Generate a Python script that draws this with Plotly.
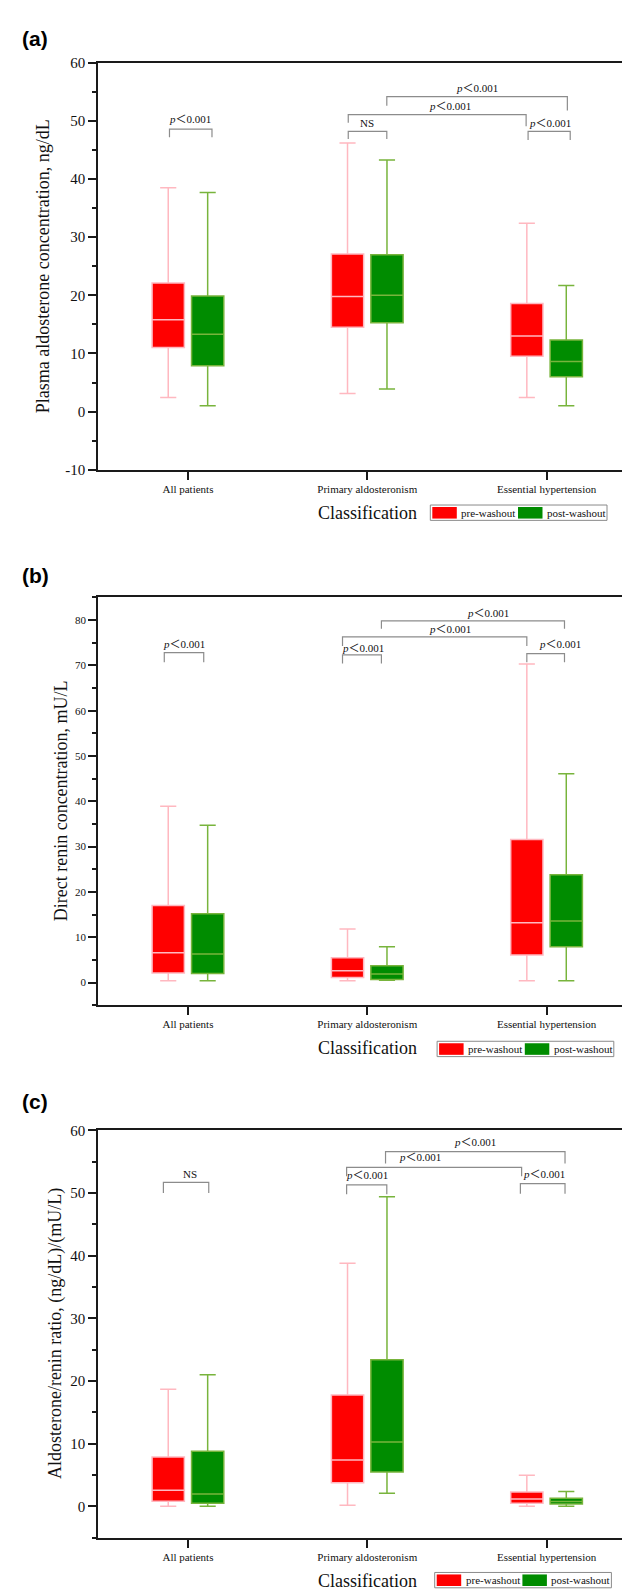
import plotly.graph_objects as go

W, H = 630, 1589

categories = ["All patients", "Primary aldosteronism", "Essential hypertension"]
series_names = ["pre-washout", "post-washout"]

# (a) Plasma aldosterone concentration, ng/dL
pac_pre_upper = [38.5, 46.2, 32.4]
pac_pre_q3 = [22.1, 27.1, 18.6]
pac_pre_med = [15.8, 19.8, 13.0]
pac_pre_q1 = [11.0, 14.5, 9.5]
pac_pre_lower = [2.4, 3.1, 2.4]
pac_post_upper = [37.7, 43.3, 21.7]
pac_post_q3 = [19.9, 27.0, 12.3]
pac_post_med = [13.3, 20.0, 8.6]
pac_post_q1 = [7.9, 15.3, 6.0]
pac_post_lower = [1.0, 3.9, 1.0]
pac_ticks = [-10, 0, 10, 20, 30, 40, 50, 60]

# (b) Direct renin concentration, mU/L
drc_pre_upper = [38.9, 11.8, 70.3]
drc_pre_q3 = [17.0, 5.5, 31.6]
drc_pre_med = [6.6, 2.6, 13.2]
drc_pre_q1 = [2.1, 1.1, 6.1]
drc_pre_lower = [0.4, 0.4, 0.4]
drc_post_upper = [34.7, 7.9, 46.1]
drc_post_q3 = [15.2, 3.7, 23.8]
drc_post_med = [6.3, 1.9, 13.6]
drc_post_q1 = [2.0, 0.7, 7.9]
drc_post_lower = [0.4, 0.5, 0.4]
drc_ticks = [0, 10, 20, 30, 40, 50, 60, 70, 80]

# (c) Aldosterone/renin ratio
arr_pre_upper = [18.7, 38.8, 5.0]
arr_pre_q3 = [7.9, 17.8, 2.3]
arr_pre_med = [2.6, 7.4, 1.2]
arr_pre_q1 = [0.85, 3.8, 0.5]
arr_pre_lower = [0.05, 0.2, 0.05]
arr_post_upper = [21.0, 49.4, 2.4]
arr_post_q3 = [8.8, 23.4, 1.3]
arr_post_med = [2.0, 10.3, 0.8]
arr_post_q1 = [0.5, 5.5, 0.4]
arr_post_lower = [0.05, 2.1, 0.05]
arr_ticks = [0, 10, 20, 30, 40, 50, 60]

# significance brackets: x-start, x-end, bar y, left-leg bottom, right-leg bottom, label, label x, label y
pac_brackets = [
    (0.897, 1.134, 48.6, 47.2, 47.2, "<i>p</i>＜0.001", 1.011, 50.3),
    (1.894, 2.109, 48.2, 46.9, 46.9, "NS", 2.0, 49.7),
    (1.894, 2.886, 51.1, 49.7, 49.1, "<i>p</i>＜0.001", 2.46, 52.6),
    (2.109, 3.116, 54.2, 52.6, 51.8, "<i>p</i>＜0.001", 2.61, 55.6),
    (2.897, 3.132, 48.2, 46.7, 46.7, "<i>p</i>＜0.001", 3.018, 49.7),
]
drc_brackets = [
    (0.868, 1.088, 72.8, 70.7, 70.7, "<i>p</i>＜0.001", 0.978, 74.7),
    (1.862, 2.079, 72.3, 70.4, 70.4, "<i>p</i>＜0.001", 1.979, 73.9),
    (1.862, 2.890, 76.3, 74.3, 74.3, "<i>p</i>＜0.001", 2.46, 78.1),
    (2.079, 3.100, 79.8, 78.1, 78.1, "<i>p</i>＜0.001", 2.673, 81.6),
    (2.890, 3.100, 72.6, 70.7, 70.7, "<i>p</i>＜0.001", 3.076, 74.7),
]
arr_brackets = [
    (0.863, 1.116, 51.7, 50.0, 50.0, "NS", 1.011, 53.0),
    (1.885, 2.109, 51.3, 49.8, 49.8, "<i>p</i>＜0.001", 2.001, 52.9),
    (1.885, 2.861, 54.1, 52.7, 52.7, "<i>p</i>＜0.001", 2.292, 55.7),
    (2.102, 3.103, 56.6, 54.7, 54.7, "<i>p</i>＜0.001", 2.601, 58.1),
    (2.854, 3.103, 51.5, 49.9, 49.9, "<i>p</i>＜0.001", 2.987, 53.0),
]

panels = [
    dict(letter="(a)", ytitle="Plasma aldosterone concentration, ng/dL",
         pre=(pac_pre_lower, pac_pre_q1, pac_pre_med, pac_pre_q3, pac_pre_upper),
         post=(pac_post_lower, pac_post_q1, pac_post_med, pac_post_q3, pac_post_upper),
         brackets=pac_brackets, ticks=pac_ticks, yrange=[-10, 60], top=47.3, bottom=458.3,
         tickfont=15, letter_y=22.5, ytitle_x=35, class_y=501.7, legend_x=422.3, legend_y=494.0),
    dict(letter="(b)", ytitle="Direct renin concentration, mU/L",
         pre=(drc_pre_lower, drc_pre_q1, drc_pre_med, drc_pre_q3, drc_pre_upper),
         post=(drc_post_lower, drc_post_q1, drc_post_med, drc_post_q3, drc_post_upper),
         brackets=drc_brackets, ticks=drc_ticks, yrange=[-5, 85], top=587.3, bottom=999.3,
         tickfont=11, letter_y=565.0, ytitle_x=53, class_y=1042.7, legend_x=429.1, legend_y=1035.7),
    dict(letter="(c)", ytitle="Aldosterone/renin ratio, (ng/dL)/(mU/L)",
         pre=(arr_pre_lower, arr_pre_q1, arr_pre_med, arr_pre_q3, arr_pre_upper),
         post=(arr_post_lower, arr_post_q1, arr_post_med, arr_post_q3, arr_post_upper),
         brackets=arr_brackets, ticks=arr_ticks, yrange=[-5, 60], top=1125.7, bottom=1537.3,
         tickfont=15, letter_y=1097.0, ytitle_x=47, class_y=1580.7, legend_x=426.7, legend_y=1572.3),
]

PRE_FILL, PRE_LINE = "#FF0000", "#FFB8C0"
POST_FILL, POST_LINE = "#008C00", "#78B43C"
SERIF = "Liberation Serif, Times New Roman, serif"
AX = "#1a1a1a"
BR = "#8c8c8c"

def px(x):
    return x / W

def py(y):
    return 1 - y / H

fig = go.Figure()
shapes = []
annotations = []
layout = {}
x_left = 90.3

for i, p in enumerate(panels):
    n = "" if i == 0 else str(i + 1)
    xa, ya = "x" + n, "y" + n
    for sname, stats, fill, line, off in (
        (series_names[0], p["pre"], PRE_FILL, PRE_LINE, -0.11),
        (series_names[1], p["post"], POST_FILL, POST_LINE, 0.11),
    ):
        lo, q1, med, q3, up = stats
        fig.add_trace(go.Box(
            x=[k + 1 + off for k in range(len(categories))],
            lowerfence=lo, q1=q1, median=med, q3=q3, upperfence=up,
            name=sname, width=0.18, whiskerwidth=0.5,
            fillcolor=fill, line=dict(color=line, width=1.5),
            xaxis=xa, yaxis=ya, showlegend=False, boxpoints=False,
        ))
    layout["xaxis" + n] = dict(
        domain=[px(x_left), 1.0], range=[0.5, 3.51], anchor=ya,
        tickvals=[1, 2, 3], ticktext=categories, ticks="outside", ticklen=8,
        tickwidth=2, tickcolor=AX, showline=True, linecolor=AX, linewidth=2,
        mirror=True, showgrid=False, zeroline=False,
        tickfont=dict(family=SERIF, size=11, color="#111"),
    )
    layout["yaxis" + n] = dict(
        domain=[py(p["bottom"]), py(p["top"])], range=p["yrange"], anchor=xa,
        tickvals=p["ticks"], ticktext=[str(t) for t in p["ticks"]],
        ticks="outside", ticklen=8, tickwidth=2, tickcolor=AX,
        showline=True, linecolor=AX, linewidth=2, showgrid=False, zeroline=False,
        minor=dict(dtick=5, tick0=0, ticks="outside", ticklen=4, tickwidth=1.5, tickcolor=AX),
        tickfont=dict(family=SERIF, size=p["tickfont"], color="#111"),
    )
    # brackets
    for (x0, x1, yb, l0, l1, lab, lx, ly) in p["brackets"]:
        shapes.append(dict(type="path", xref=xa, yref=ya,
                           path=f"M {x0},{l0} L {x0},{yb} L {x1},{yb} L {x1},{l1}",
                           line=dict(color=BR, width=1.2)))
        annotations.append(dict(xref=xa, yref=ya, x=lx, y=ly, text=lab, showarrow=False,
                                xanchor="center", yanchor="middle",
                                font=dict(family=SERIF + ", Noto Sans CJK SC", size=11, color="#111")))
    # panel letter
    annotations.append(dict(xref="paper", yref="paper", x=px(12), y=py(p["letter_y"]),
                            text="<b>" + p["letter"] + "</b>", showarrow=False,
                            xanchor="left", yanchor="middle",
                            font=dict(family="Liberation Sans, Arial, sans-serif", size=21, color="#000")))
    # y title
    annotations.append(dict(xref="paper", yref="paper", x=px(p["ytitle_x"]),
                            y=py((p["top"] + p["bottom"]) / 2), text=p["ytitle"], textangle=-90,
                            showarrow=False, xanchor="center", yanchor="middle",
                            font=dict(family=SERIF, size=18, color="#111")))
    # x title
    annotations.append(dict(xref="paper", yref="paper", x=px(359), y=py(p["class_y"]),
                            text="Classification", showarrow=False, xanchor="center", yanchor="middle",
                            font=dict(family=SERIF, size=18, color="#111")))
    # legend box
    lx0, ly0 = p["legend_x"], p["legend_y"]
    shapes.append(dict(type="rect", xref="paper", yref="paper",
                       x0=px(lx0), x1=px(lx0 + 176.7), y0=py(ly0), y1=py(ly0 + 15.5),
                       line=dict(color="#8a8a8a", width=1), fillcolor="rgba(0,0,0,0)"))
    for off, col, lab in ((2.0, PRE_FILL, series_names[0]), (87.7, POST_FILL, series_names[1])):
        shapes.append(dict(type="rect", xref="paper", yref="paper",
                           x0=px(lx0 + off), x1=px(lx0 + off + 24.5), y0=py(ly0 + 2), y1=py(ly0 + 13.7),
                           line=dict(color=col, width=0), fillcolor=col))
        annotations.append(dict(xref="paper", yref="paper", x=px(lx0 + off + 27), y=py(ly0 + 8),
                                text=lab, showarrow=False, xanchor="left", yanchor="middle",
                                font=dict(family=SERIF, size=11, color="#111")))

fig.update_layout(
    width=W, height=H, autosize=False,
    margin=dict(l=0, r=0, t=0, b=0),
    paper_bgcolor="white", plot_bgcolor="white",
    boxmode="overlay", showlegend=False,
    shapes=shapes, annotations=annotations,
    **layout,
)

fig.write_html("out.html")
